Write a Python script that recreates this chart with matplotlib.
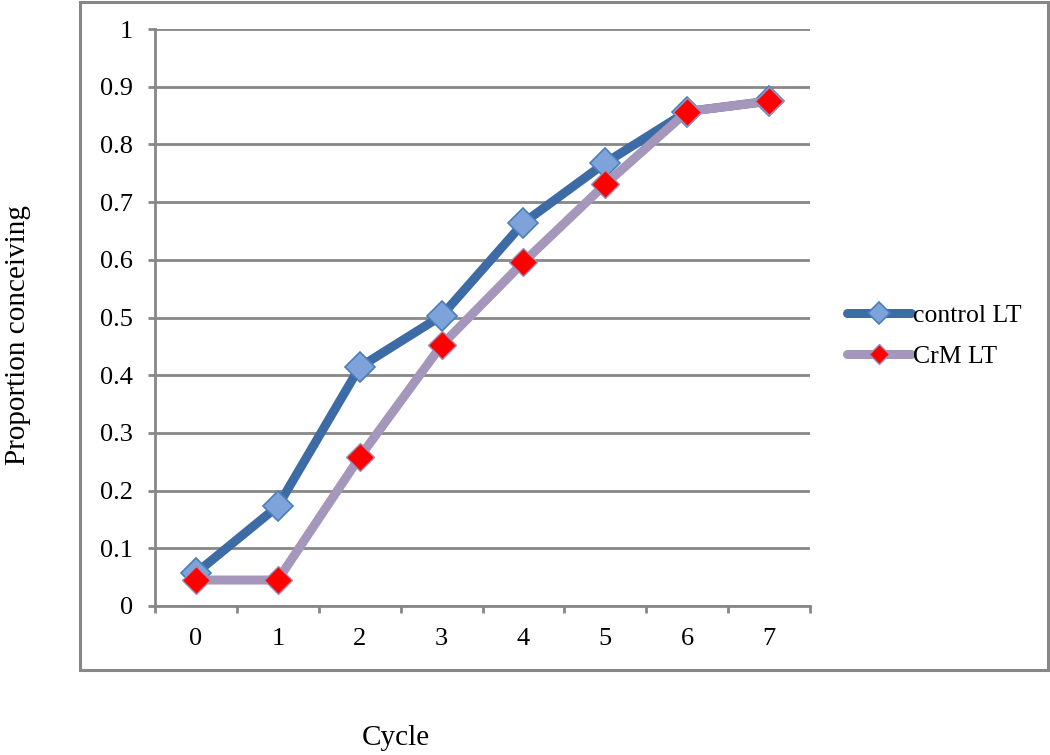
import numpy as np
import matplotlib.pyplot as plt
from matplotlib.patches import Rectangle

# data
cycles = [0, 1, 2, 3, 4, 5, 6, 7]
control_lt = [0.057, 0.173, 0.414, 0.503, 0.664, 0.768, 0.857, 0.875]
crm_lt = [0.045, 0.045, 0.258, 0.452, 0.596, 0.731, 0.857, 0.875]
y_ticks = [0, 0.1, 0.2, 0.3, 0.4, 0.5, 0.6, 0.7, 0.8, 0.9, 1]
y_ticklabels = ['0', '0.1', '0.2', '0.3', '0.4', '0.5', '0.6', '0.7', '0.8', '0.9', '1']

plt.rcParams['font.family'] = ['Liberation Serif', 'DejaVu Serif']
grey = '#878787'

fig = plt.figure(figsize=(10.5, 7.55), dpi=100)
ax = fig.add_axes([155/1050, 1 - 606/755, 655/1050, 577/755])

# outer chart border
fig.patches.append(Rectangle((80/1050, 1 - 670/755), 968/1050, 668/755,
                             transform=fig.transFigure, fill=False,
                             edgecolor=grey, lw=2.2, zorder=0))

x = np.arange(len(cycles))
ax.plot(x, control_lt, color='#3D6BA5', lw=6.5, marker='D', ms=15,
        mfc='#7DA3DA', mec='#4A7EBB', mew=1.2, label='control LT', zorder=3,
        solid_joinstyle='round', solid_capstyle='round')
ax.plot(x, crm_lt, color='#A596BC', lw=6.5, marker='D', ms=14,
        mfc='#FF0000', mec='#9C8FB8', mew=1.0, label='CrM LT', zorder=4,
        solid_joinstyle='round', solid_capstyle='round')

ax.set_xlim(-0.5, len(cycles) - 0.5)
ax.set_ylim(0, 1)
ax.set_yticks(y_ticks)
ax.set_yticklabels(y_ticklabels)
ax.set_xticks(x)
ax.set_xticklabels([str(c) for c in cycles])
ax.set_xticks(np.arange(-0.5, len(cycles)), minor=True)

ax.grid(axis='y', color=grey, lw=2)
ax.set_axisbelow(True)
for s in ['top', 'right']:
    ax.spines[s].set_visible(False)
for s in ['left', 'bottom']:
    ax.spines[s].set_color(grey)
    ax.spines[s].set_linewidth(2)

ax.tick_params(axis='y', length=5, width=2, color=grey, labelsize=19, pad=11)
ax.tick_params(axis='x', which='major', length=0, labelsize=19, pad=16)
ax.tick_params(axis='x', which='minor', length=5, width=2, color=grey)

fig.text(18/1050, 1 - 335/755, 'Proportion conceiving', rotation=90,
         ha='center', va='center', fontsize=21)
fig.text(396/1050, 1 - 745/755, 'Cycle', ha='center', va='baseline', fontsize=21)

ax.legend(loc='center left', bbox_to_anchor=(824/1050, 1 - 336/755),
          bbox_transform=fig.transFigure, frameon=False, fontsize=18.5,
          handlelength=2.5, handletextpad=0.05, labelspacing=0.7,
          markerscale=0.75)

fig.savefig('out.png', dpi=100)
